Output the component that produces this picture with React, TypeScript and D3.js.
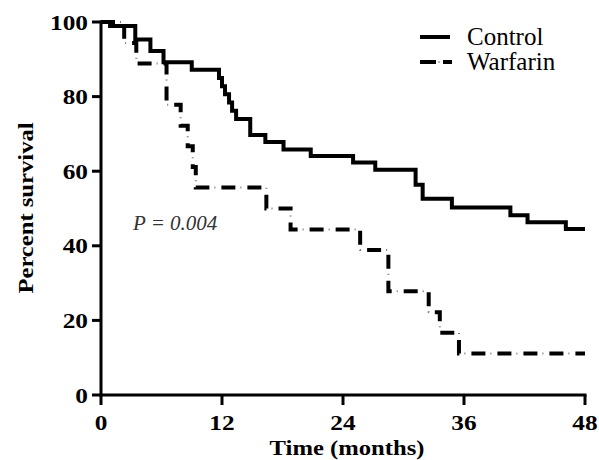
import React from "react";
import * as d3 from "d3";

const controlTimes = [0, 0.9, 3.4, 4.9, 6.2, 9.0, 11.7, 12.0, 12.3, 12.7, 13.0, 13.4, 14.8, 16.3, 18.1, 20.8, 25.0, 27.2, 31.2, 31.9, 34.8, 40.6, 42.3, 46.1];
const controlSurv = [100, 98.9, 95.3, 92.2, 89.2, 87.2, 85.0, 82.8, 80.6, 78.4, 76.2, 74.0, 69.7, 67.8, 65.8, 64.1, 62.3, 60.4, 56.4, 52.6, 50.3, 48.2, 46.3, 44.5];

const warfarinTimes = [0, 2.3, 3.5, 6.5, 7.9, 8.6, 9.1, 9.4, 16.4, 18.8, 25.7, 28.5, 32.5, 33.6, 35.5];
const warfarinSurv = [100, 94.4, 88.9, 77.8, 72.2, 66.7, 61.1, 55.6, 50, 44.4, 38.9, 27.8, 22.2, 16.7, 11.1];

const xTicks = [0, 12, 24, 36, 48];
const yTicks = [0, 20, 40, 60, 80, 100];
const seriesNames = ["Control", "Warfarin"];
const endTime = 48;

const W = 599;
const H = 460;
const FONT = "Liberation Serif, Times New Roman, Times, serif";

export default function App() {
  const x = d3.scaleLinear().domain([0, 48]).range([101, 585]);
  const y = d3.scaleLinear().domain([0, 100]).range([395, 22]);

  const toPts = (t: number[], s: number[]) => {
    const pts = t.map((v, i) => [v, s[i]] as [number, number]);
    pts.push([endTime, s[s.length - 1]]);
    return pts;
  };
  const line = d3
    .line<[number, number]>()
    .x((d) => x(d[0]))
    .y((d) => y(d[1]))
    .curve(d3.curveStepAfter);

  const controlPath = line(toPts(controlTimes, controlSurv)) || "";
  const warfarinPath = line(toPts(warfarinTimes, warfarinSurv)) || "";
  const boldText = { fontFamily: FONT, fontWeight: 700 } as React.CSSProperties;
  const plainText = { fontFamily: FONT, fontWeight: 400 } as React.CSSProperties;

  return (
    <svg
      width={W}
      height={H}
      style={{ position: "absolute", left: 0, top: 0, background: "#fff" }}
    >
      <rect x={0} y={0} width={W} height={H} fill="#fff" />
      {/* curves */}
      <path d={controlPath} fill="none" stroke="#000" strokeWidth={4} />
      <path
        d={warfarinPath}
        fill="none"
        stroke="#000"
        strokeWidth={4}
        strokeDasharray="14 12"
      />
      <path
        d={warfarinPath}
        fill="none"
        stroke="#777"
        strokeWidth={2}
        strokeDasharray="1 25"
        strokeDashoffset={-19}
      />
      {/* axes */}
      <line x1={x(0)} x2={x(0)} y1={y(100) - 1.5} y2={y(0) + 1.5} stroke="#000" strokeWidth={3} />
      <line x1={x(0) - 1.5} x2={x(48) + 1.5} y1={y(0)} y2={y(0)} stroke="#000" strokeWidth={3} />
      {yTicks.map((t) => (
        <g key={"y" + t}>
          <line x1={x(0) - 9} x2={x(0)} y1={y(t)} y2={y(t)} stroke="#000" strokeWidth={3} />
          <text
            transform={`translate(88,${y(t) + 7.5}) scale(1.15,1)`}
            textAnchor="end"
            style={{ ...boldText, fontSize: "22px" }}
          >
            {t}
          </text>
        </g>
      ))}
      {xTicks.map((t) => (
        <g key={"x" + t}>
          <line x1={x(t)} x2={x(t)} y1={y(0)} y2={y(0) + 10} stroke="#000" strokeWidth={3} />
          <text
            transform={`translate(${x(t)},430) scale(1.15,1)`}
            textAnchor="middle"
            style={{ ...boldText, fontSize: "22px" }}
          >
            {t}
          </text>
        </g>
      ))}
      {/* axis titles */}
      <text
        transform={`translate(33,208) rotate(-90) scale(1.12,1)`}
        textAnchor="middle"
        style={{ ...boldText, fontSize: "22px" }}
      >
        Percent survival
      </text>
      <text
        transform={`translate(347,455) scale(1.12,1)`}
        textAnchor="middle"
        style={{ ...boldText, fontSize: "22px" }}
      >
        Time (months)
      </text>
      {/* legend */}
      <line x1={420} x2={450} y1={37} y2={37} stroke="#000" strokeWidth={4} />
      <text x={467} y={45} style={{ ...plainText, fontSize: "25px" }}>
        {seriesNames[0]}
      </text>
      <line x1={420} x2={436} y1={62} y2={62} stroke="#000" strokeWidth={4} />
      <line x1={438.5} x2={439.5} y1={62} y2={62} stroke="#777" strokeWidth={2} />
      <line x1={443} x2={452} y1={62} y2={62} stroke="#000" strokeWidth={4} />
      <text x={467} y={70} style={{ ...plainText, fontSize: "25px" }}>
        {seriesNames[1]}
      </text>
      {/* p value */}
      <text x={133} y={230} fill="#333" style={{ ...plainText, fontStyle: "italic", fontSize: "21px" }}>
        P = 0.004
      </text>
    </svg>
  );
}
